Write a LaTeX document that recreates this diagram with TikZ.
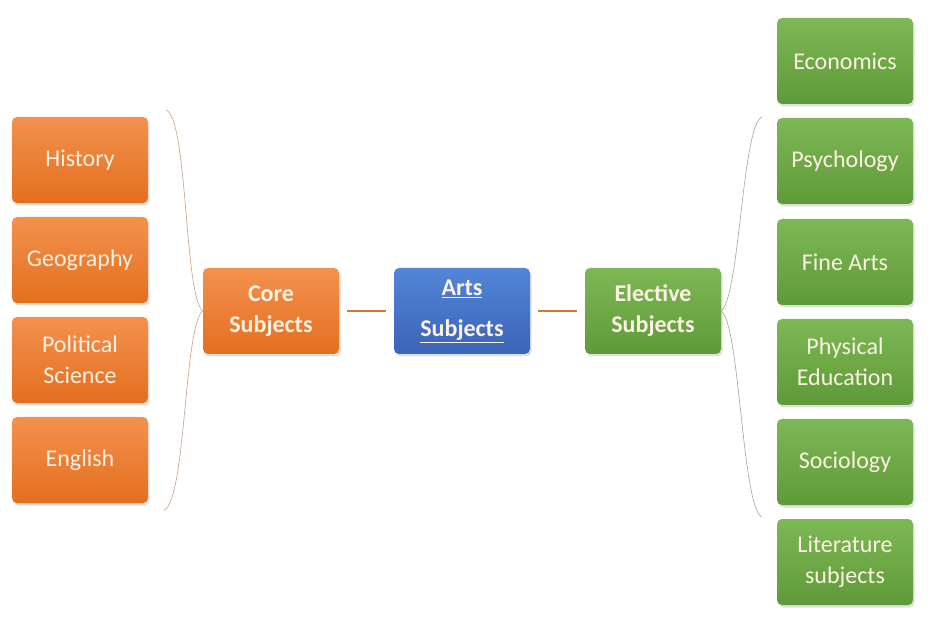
\documentclass[tikz,border=0pt]{standalone}
\usepackage{fontspec}
\setmainfont{Carlito}
\usepackage{tikz}
\usepackage{xcolor}
\usetikzlibrary{shadows}

\definecolor{orangetop}{HTML}{F3914E}
\definecolor{orangebot}{HTML}{E46F1E}
\definecolor{greentop}{HTML}{7DB855}
\definecolor{greenbot}{HTML}{5F9A38}
\definecolor{bluetop}{HTML}{5385D6}
\definecolor{bluebot}{HTML}{3A64B8}
\definecolor{boxtext}{HTML}{FDF1E4}
\definecolor{linkline}{HTML}{D9762F}
\definecolor{leftbrace}{HTML}{C9A083}
\definecolor{rightbrace}{HTML}{A0A88C}

\tikzset{
    subjbox/.style={rounded corners=5pt, minimum width=136pt, minimum height=86pt,
        inner sep=2pt, align=center, text=boxtext,
        font=\fontsize{24}{31}\selectfont,
        drop shadow={opacity=0.25, shadow xshift=1.5pt, shadow yshift=-2.5pt}},
    orangebox/.style={subjbox, top color=orangetop, bottom color=orangebot},
    greenbox/.style={subjbox, top color=greentop, bottom color=greenbot},
    bluebox/.style={subjbox, top color=bluetop, bottom color=bluebot},
    link/.style={draw=linkline, line width=1.1pt, shorten <=8pt, shorten >=8pt},
}

\begin{document}
\begin{tikzpicture}[x=1pt,y=-1pt]
        \useasboundingbox (0,0) rectangle (930,620);

        \node[orangebox] (history) at (80,160) {History};
        \node[orangebox] (geography) at (80,260) {Geography};
        \node[orangebox] (polsci) at (80,360) {Political\\Science};
        \node[orangebox] (english) at (80,460) {English};

        \node[orangebox, font=\fontsize{24}{31}\selectfont\bfseries] (core) at (271,311) {Core\\Subjects};
        \node[bluebox, font=\fontsize{24}{31}\selectfont\bfseries] (arts) at (462,311) {\underline{Arts}\\[10pt]\underline{Subjects}};
        \node[greenbox, font=\fontsize{24}{31}\selectfont\bfseries] (elective) at (653,311) {Elective\\Subjects};

        \node[greenbox] (economics) at (845,61) {Economics};
        \node[greenbox] (psychology) at (845,161) {Psychology};
        \node[greenbox] (finearts) at (845,262) {Fine Arts};
        \node[greenbox] (physed) at (845,362) {Physical\\Education};
        \node[greenbox] (sociology) at (845,462) {Sociology};
        \node[greenbox] (literature) at (845,562) {Literature\\subjects};

        \draw[link] (core) -- (arts);
        \draw[link] (arts) -- (elective);

        \coordinate (ltop) at (166,110);
        \coordinate (lbot) at (164,510);
        \coordinate (rtop) at (762,117);
        \coordinate (rbot) at (762,517);

        \draw[leftbrace, line width=0.6pt] (ltop) .. controls (188,118) and (184,296) .. (core.west)
            .. controls (184,324) and (186,502) .. (lbot);
        \draw[rightbrace, line width=0.6pt] (rtop) .. controls (742,125) and (740,296) .. (elective.east)
            .. controls (740,324) and (742,509) .. (rbot);
    \end{tikzpicture}
\end{document}
